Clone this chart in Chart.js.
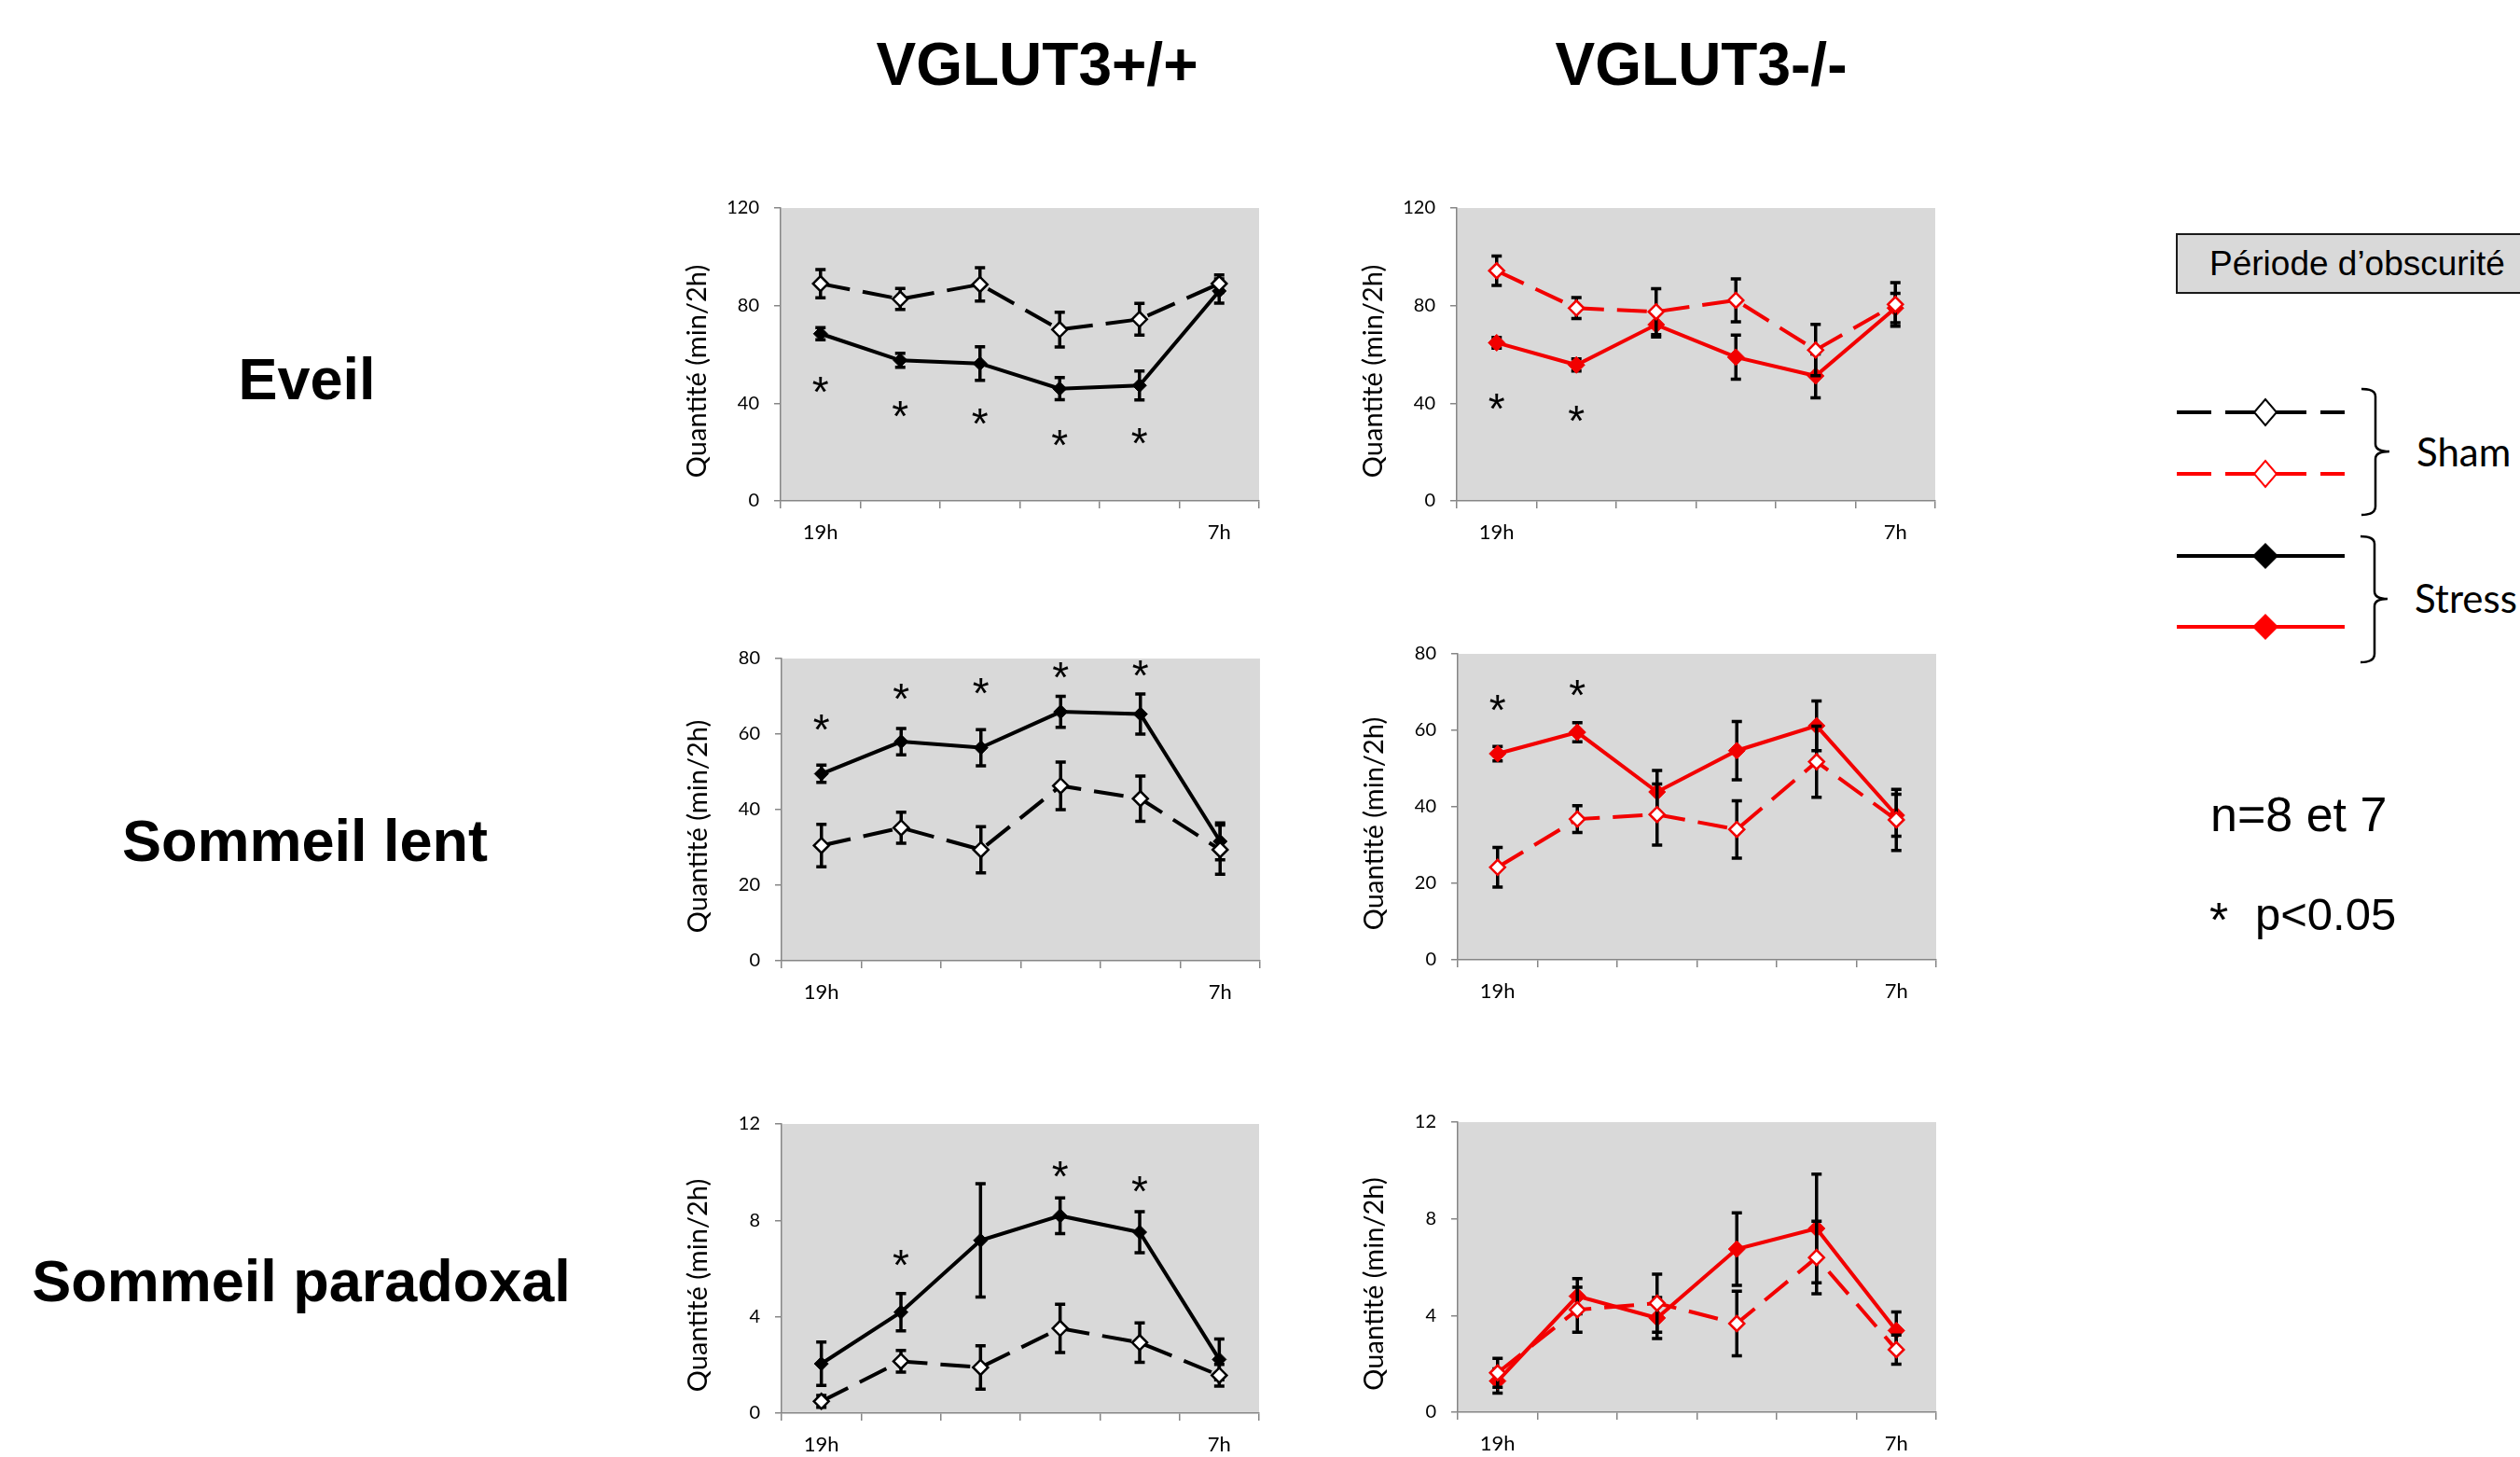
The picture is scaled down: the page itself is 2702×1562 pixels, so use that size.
<!DOCTYPE html>
<html lang="fr">
<head>
<meta charset="utf-8">
<script src="https://cdn.jsdelivr.net/npm/chart.js@4.4.1/dist/chart.umd.min.js"></script>
<style>
  html, body { margin: 0; padding: 0; background: #fff; }
  #page { position: relative; width: 2702px; height: 1562px; overflow: hidden; background: #fff; }
  .t { position: absolute; white-space: pre; line-height: 1; color: #000; }
  .arial { font-family: "Liberation Sans", Arial, sans-serif; }
  .bold { font-weight: bold; }
  .lato { font-family: Lato, "Open Sans", sans-serif; }
  .mid { transform: translateX(-50%); }
  .panel { position: absolute; }
  #darkBox { position: absolute; left: 2333px; top: 250px; width: 420px; height: 65px; box-sizing: border-box;
             border: 2px solid #1a1a1a; background: #d9d9d9; }
  svg { position: absolute; left: 0; top: 0; }
</style>
</head>
<body>
<div id="page">
  <div class="t arial bold mid" style="font-size:64px; left:1112px; top:37px;">VGLUT3+/+</div>
  <div class="t arial bold mid" style="font-size:64px; left:1824px; top:37px;">VGLUT3-/-</div>

  <div class="t arial bold mid" style="font-size:63px; left:329px; top:375px;">Eveil</div>
  <div class="t arial bold mid" style="font-size:63px; left:327px; top:870px;">Sommeil lent</div>
  <div class="t arial bold mid" style="font-size:63px; left:323px; top:1342px;">Sommeil paradoxal</div>

  <div id="darkBox"></div>
  <div class="t arial" style="font-size:37px; left:2369px; top:264px;">Période d’obscurité</div>

  <svg width="2702" height="1562" viewBox="0 0 2702 1562">
    <!-- Sham, noir -->
    <g stroke="#000" stroke-width="4">
      <line x1="2334" y1="442" x2="2371" y2="442"/>
      <line x1="2386" y1="442" x2="2418" y2="442"/>
      <line x1="2440" y1="442" x2="2473" y2="442"/>
      <line x1="2488" y1="442" x2="2514" y2="442"/>
    </g>
    <polygon points="2417,442 2429,428 2441,442 2429,456" fill="#fff" stroke="#000" stroke-width="2"/>
    <!-- Sham, rouge -->
    <g stroke="#ff0000" stroke-width="4">
      <line x1="2334" y1="508" x2="2371" y2="508"/>
      <line x1="2386" y1="508" x2="2418" y2="508"/>
      <line x1="2440" y1="508" x2="2473" y2="508"/>
      <line x1="2488" y1="508" x2="2514" y2="508"/>
    </g>
    <polygon points="2417,508 2429,494 2441,508 2429,522" fill="#fff" stroke="#ff0000" stroke-width="2"/>
    <!-- Stress -->
    <line x1="2334" y1="596" x2="2514" y2="596" stroke="#000" stroke-width="4"/>
    <polygon points="2415,596 2429,582 2443,596 2429,610" fill="#000"/>
    <line x1="2334" y1="672" x2="2514" y2="672" stroke="#ff0000" stroke-width="4"/>
    <polygon points="2415,672 2429,658 2443,672 2429,686" fill="#ff0000"/>
    <!-- accolades -->
    <path d="M2532,417 Q2547,417 2547,425 L2547,476 Q2547,484 2562,484 Q2547,484 2547,492 L2547,543 Q2547,552 2532,552"
          fill="none" stroke="#000" stroke-width="2.5"/>
    <path d="M2531,575 Q2546,575 2546,583 L2546,634 Q2546,642 2560,642 Q2546,642 2546,650 L2546,701 Q2546,710 2531,710"
          fill="none" stroke="#000" stroke-width="2.5"/>
  </svg>

  <div class="t lato" style="font-size:42px; left:2591px; top:463px;">Sham</div>
  <div class="t lato" style="font-size:42px; left:2589px; top:620px;">Stress</div>

  <div class="t arial" style="font-size:52px; left:2370px; top:847px;">n=8 et 7</div>
  <div class="t arial" style="font-size:52px; left:2369px; top:960px;">*</div>
  <div class="t arial" style="font-size:49px; left:2418px; top:956px;">p&lt;0.05</div>

  <div class="panel" id="w1"><canvas id="c1"></canvas></div>
  <div class="panel" id="w2"><canvas id="c2"></canvas></div>
  <div class="panel" id="w3"><canvas id="c3"></canvas></div>
  <div class="panel" id="w4"><canvas id="c4"></canvas></div>
  <div class="panel" id="w5"><canvas id="c5"></canvas></div>
  <div class="panel" id="w6"><canvas id="c6"></canvas></div>
</div>

<script>
// Tranches de 2h pendant la période d'obscurité
const categories = ['19h', '', '', '', '', '7h'];

// Eveil, VGLUT3+/+
const eveilWtSham = [89.0, 82.7, 88.7, 70.2, 74.4, 89.0];
const eveilWtShamErr = [5.8, 4.3, 6.8, 7.1, 6.5, 3.6];
const eveilWtStress = [68.5, 57.6, 56.3, 46.0, 47.3, 86.0];
const eveilWtStressErr = [2.5, 2.9, 6.9, 4.5, 5.9, 5.0];
const eveilWtStars = [46.4, 36.6, 33.4, 24.7, 25.5, null];

// Eveil, VGLUT3-/-
const eveilKoSham = [94.3, 79.0, 77.5, 82.2, 61.8, 80.5];
const eveilKoShamErr = [6.0, 4.3, 9.4, 8.8, 10.5, 8.9];
const eveilKoStress = [64.8, 55.7, 72.2, 58.9, 51.2, 79.0];
const eveilKoStressErr = [2.2, 2.5, 5.0, 9.0, 9.0, 6.0];
const eveilKoStars = [39.7, 34.6, null, null, null, null];

// Sommeil lent, VGLUT3+/+
const lentWtSham = [30.5, 35.2, 29.4, 46.3, 42.9, 29.4];
const lentWtShamErr = [5.6, 4.1, 6.1, 6.3, 6.0, 6.5];
const lentWtStress = [49.5, 58.0, 56.4, 65.9, 65.3, 31.6];
const lentWtStressErr = [2.3, 3.5, 4.8, 4.1, 5.3, 4.9];
const lentWtStars = [62.3, 70.5, 72.0, 76.1, 76.7, null];

// Sommeil lent, VGLUT3-/-
const lentKoSham = [24.2, 36.8, 38.0, 34.1, 51.8, 36.6];
const lentKoShamErr = [5.2, 3.5, 8.0, 7.5, 9.3, 8.0];
const lentKoStress = [53.9, 59.5, 43.9, 54.7, 61.2, 37.8];
const lentKoStressErr = [1.9, 2.5, 5.6, 7.6, 6.5, 5.5];
const lentKoStars = [66.4, 70.5, null, null, null, null];

// Sommeil paradoxal, VGLUT3+/+
const paraWtSham = [0.49, 2.15, 1.90, 3.52, 2.93, 1.57];
const paraWtShamErr = [0.25, 0.45, 0.9, 1.0, 0.82, 0.45];
const paraWtStress = [2.05, 4.19, 7.17, 8.19, 7.51, 2.23];
const paraWtStressErr = [0.9, 0.77, 2.35, 0.74, 0.85, 0.85];
const paraWtStars = [null, 6.32, null, 10.0, 9.38, null];

// Sommeil paradoxal, VGLUT3-/-
const paraKoSham = [1.63, 4.24, 4.51, 3.67, 6.40, 2.59];
const paraKoShamErr = [0.6, 0.93, 1.2, 1.34, 1.5, 0.6];
const paraKoStress = [1.29, 4.80, 3.90, 6.75, 7.60, 3.38];
const paraKoStressErr = [0.5, 0.73, 0.85, 1.5, 2.25, 0.77];
const paraKoStars = [null, null, null, null, null, null];

// Graduations de l'axe Y : min, max, pas
const eveilTicks = [0, 120, 40];
const lentTicks = [0, 80, 20];
const paraTicks = [0, 12, 4];

const RED = '#f20000';
const BLACK = '#000000';
const STAR_SIZE = 46;

// fond gris, barres d'erreur, titre de l'axe Y et astérisques
const decorPlugin = {
  id: 'decor',
  beforeDraw(chart) {
    const a = chart.chartArea, ctx = chart.ctx;
    ctx.save();
    ctx.fillStyle = '#d9d9d9';
    ctx.fillRect(a.left, a.top, a.right - a.left, a.bottom - a.top);
    ctx.restore();
  },
  beforeDatasetDraw(chart, args) {
    const ds = chart.data.datasets[args.index];
    if (!ds.errors) return;
    const y = chart.scales.y, ctx = chart.ctx;
    ctx.save();
    ctx.strokeStyle = '#000';
    ctx.lineWidth = 3.5;
    args.meta.data.forEach(function (pt, i) {
      const v = ds.data[i], e = ds.errors[i];
      if (v == null || e == null) return;
      const top = y.getPixelForValue(v + e), bot = y.getPixelForValue(v - e);
      ctx.beginPath();
      ctx.moveTo(pt.x, top); ctx.lineTo(pt.x, bot);
      ctx.moveTo(pt.x - 5.5, top); ctx.lineTo(pt.x + 5.5, top);
      ctx.moveTo(pt.x - 5.5, bot); ctx.lineTo(pt.x + 5.5, bot);
      ctx.stroke();
    });
    ctx.restore();
  },
  afterDraw(chart) {
    const a = chart.chartArea, ctx = chart.ctx;
    ctx.save();
    ctx.translate(a.left - 89.5, (a.top + a.bottom) / 2 + 18);
    ctx.rotate(-Math.PI / 2);
    ctx.font = '29px Lato';
    ctx.fillStyle = '#000';
    ctx.textAlign = 'center';
    ctx.textBaseline = 'middle';
    ctx.fillText('Quantité (min/2h)', 0, 0);
    ctx.restore();

    const stars = chart.options.plugins.decor.stars || [];
    const x = chart.scales.x, y = chart.scales.y;
    ctx.save();
    ctx.font = STAR_SIZE + 'px "Liberation Sans"';
    ctx.fillStyle = '#000';
    ctx.textAlign = 'center';
    ctx.textBaseline = 'alphabetic';
    stars.forEach(function (s, i) {
      if (s == null) return;
      ctx.fillText('*', x.getPixelForValue(i), y.getPixelForValue(s) + 0.45 * STAR_SIZE);
    });
    ctx.restore();
  }
};

function buildChart(canvas, color, sham, shamErr, stress, stressErr, stars, ticks) {
  return new Chart(canvas.getContext('2d'), {
    type: 'line',
    data: {
      labels: categories,
      datasets: [{
        label: 'Sham',
        data: sham,
        errors: shamErr,
        borderColor: color,
        borderWidth: 4,
        borderDash: [32, 14],
        pointStyle: 'rectRot',
        pointRadius: 8,
        pointBackgroundColor: '#ffffff',
        pointBorderColor: color,
        pointBorderWidth: 2.5,
        fill: false,
        tension: 0
      }, {
        label: 'Stress',
        data: stress,
        errors: stressErr,
        borderColor: color,
        borderWidth: 4,
        pointStyle: 'rectRot',
        pointRadius: color === RED ? 9 : 7.5,
        pointBackgroundColor: color,
        pointBorderColor: color,
        pointBorderWidth: 1,
        fill: false,
        tension: 0
      }]
    },
    options: {
      responsive: false,
      animation: false,
      events: [],
      layout: { padding: { top: 20, right: 20, left: 0, bottom: 0 } },
      plugins: {
        legend: { display: false },
        tooltip: { enabled: false },
        decor: { stars: stars }
      },
      scales: {
        x: {
          type: 'category',
          offset: true,
          grid: { offset: true, drawOnChartArea: false, drawTicks: true, tickLength: 8, color: '#868686', lineWidth: 1.5 },
          border: { display: true, color: '#868686', width: 1.5 },
          ticks: { font: { family: 'Lato', size: 22 }, color: '#000', padding: 13, autoSkip: false, maxRotation: 0 },
          afterFit: function (s) { s.height = 60; }
        },
        y: {
          min: ticks[0],
          max: ticks[1],
          grid: { drawOnChartArea: false, drawTicks: true, tickLength: 7, color: '#868686', lineWidth: 1.5 },
          border: { display: true, color: '#868686', width: 1.5 },
          ticks: { stepSize: ticks[2], font: { family: 'Lato', size: 20 }, color: '#000', padding: 16 },
          afterFit: function (s) { s.width = 120; }
        }
      }
    },
    plugins: [decorPlugin]
  });
}

function makePanel(id, plot, color, sham, shamErr, stress, stressErr, stars, ticks) {
  const wrap = document.getElementById('w' + id);
  const canvas = document.getElementById('c' + id);
  let w = plot.w + 140, h = plot.h + 80;
  canvas.width = w;
  canvas.height = h;
  let chart = buildChart(canvas, color, sham, shamErr, stress, stressErr, stars, ticks);

  // ajuster la taille du canevas pour que la zone de tracé ait la taille voulue
  let a = chart.chartArea;
  const nw = plot.w + a.left + (w - a.right);
  const nh = plot.h + a.top + (h - a.bottom);
  if (nw !== w || nh !== h) {
    chart.destroy();
    canvas.width = nw;
    canvas.height = nh;
    chart = buildChart(canvas, color, sham, shamErr, stress, stressErr, stars, ticks);
    a = chart.chartArea;
  }
  wrap.style.left = (plot.left - a.left) + 'px';
  wrap.style.top = (plot.top - a.top) + 'px';
  return chart;
}

makePanel(1, { left: 837, top: 223, w: 513, h: 314 }, BLACK, eveilWtSham, eveilWtShamErr, eveilWtStress, eveilWtStressErr, eveilWtStars, eveilTicks);
makePanel(2, { left: 1562, top: 223, w: 513, h: 314 }, RED, eveilKoSham, eveilKoShamErr, eveilKoStress, eveilKoStressErr, eveilKoStars, eveilTicks);
makePanel(3, { left: 838, top: 706, w: 513, h: 324 }, BLACK, lentWtSham, lentWtShamErr, lentWtStress, lentWtStressErr, lentWtStars, lentTicks);
makePanel(4, { left: 1563, top: 701, w: 513, h: 328 }, RED, lentKoSham, lentKoShamErr, lentKoStress, lentKoStressErr, lentKoStars, lentTicks);
makePanel(5, { left: 838, top: 1205, w: 512, h: 310 }, BLACK, paraWtSham, paraWtShamErr, paraWtStress, paraWtStressErr, paraWtStars, paraTicks);
makePanel(6, { left: 1563, top: 1203, w: 513, h: 311 }, RED, paraKoSham, paraKoShamErr, paraKoStress, paraKoStressErr, paraKoStars, paraTicks);
</script>
</body>
</html>
